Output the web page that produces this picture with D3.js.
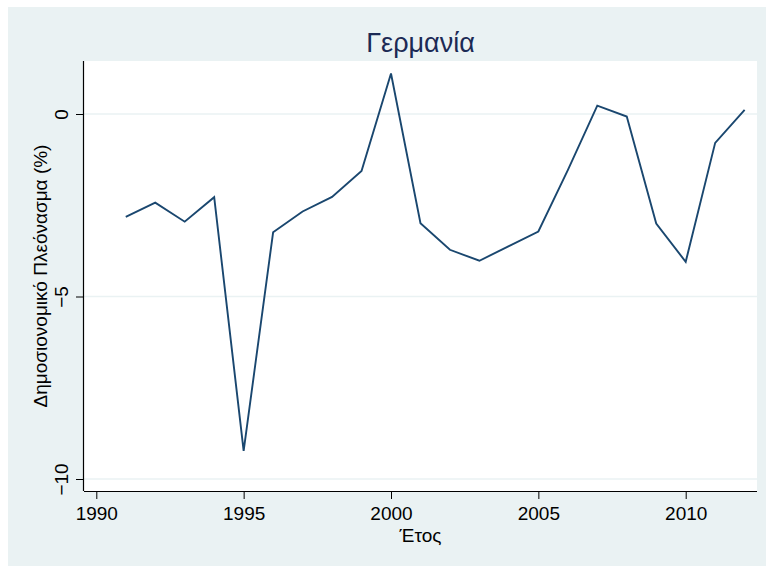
<!DOCTYPE html>
<html>
<head>
<meta charset="utf-8">
<script src="https://cdn.jsdelivr.net/npm/d3@7"></script>
<style>
  body { margin: 0; background: #fff; }
  svg { display: block; font-family: Arial, "Liberation Sans", sans-serif; }
</style>
</head>
<body>
<div class="container"></div>
<script>
// Germany, fiscal balance (% of GDP)
const years = [1991, 1992, 1993, 1994, 1995, 1996, 1997, 1998, 1999, 2000, 2001,
    2002, 2003, 2004, 2005, 2006, 2007, 2008, 2009, 2010, 2011, 2012];
const balance = [-2.82, -2.43, -2.95, -2.28, -9.23, -3.24, -2.67, -2.27, -1.56, 1.11, -2.99,
    -3.72, -4.02, -3.62, -3.22, -1.54, 0.23, -0.07, -3.0, -4.05, -0.79, 0.11];
const xTicks = [1990, 1995, 2000, 2005, 2010];
const yTicks = [-10, -5, 0];

const title = "Γερμανία";
const xTitle = "Έτος";
const yTitle = "Δημοσιονομικό Πλεόνασμα (%)";

let W = 766, H = 566;
let margin = { top: 61, right: 9, bottom: 75, left: 84 },
    width = W - margin.left - margin.right,
    height = H - margin.top - margin.bottom;

const font = "Arial, 'Liberation Sans', sans-serif";

let svg = d3.select(".container")
    .append("svg")
    .attr("width", W)
    .attr("height", H);

// outer background
svg.append("rect")
    .attr("x", 8).attr("y", 7)
    .attr("width", W - 8).attr("height", H - 7)
    .attr("fill", "#eaf2f3");

let g = svg.append("g")
    .attr("transform", "translate(" + margin.left + "," + margin.top + ")");

g.append("rect")
    .attr("width", width).attr("height", height)
    .attr("fill", "#fff");

let data = years.map((y, i) => ({ year: y, v: balance[i] }));

let x = d3.scaleLinear()
    .domain([1990, 2010])
    .range([96.3 - margin.left, 685.7 - margin.left]);

let y = d3.scaleLinear()
    .domain([-10, 0])
    .range([479 - margin.top, 114 - margin.top]);

// gridlines
g.append("g")
    .selectAll("line")
    .data(yTicks)
    .enter()
    .append("line")
    .attr("x1", 0).attr("x2", width)
    .attr("y1", d => y(d)).attr("y2", d => y(d))
    .attr("stroke", "#eaf2f3")
    .attr("stroke-width", 1.5);

// line
g.append("path")
    .datum(data)
    .attr("fill", "none")
    .attr("stroke", "#1a476f")
    .attr("stroke-width", 1.9)
    .attr("stroke-linejoin", "miter")
    .attr("d", d3.line().x(d => x(d.year)).y(d => y(d.v)));

// x axis
let xAxis = g.append("g")
    .attr("transform", "translate(0," + height + ")")
    .call(d3.axisBottom(x).tickValues(xTicks).tickFormat(d3.format("d"))
        .tickSize(8).tickSizeOuter(0).tickPadding(8));
xAxis.select(".domain").attr("d", "M0,0.5H" + width).attr("stroke", "#000").attr("stroke-width", 1.2);
xAxis.selectAll("text").attr("font-size", 19).attr("font-family", font).attr("fill", "#000");

// y axis
let yAxis = g.append("g")
    .call(d3.axisLeft(y).tickValues(yTicks).tickSize(8).tickSizeOuter(0));
yAxis.select(".domain").attr("d", "M-0.5,0V" + height).attr("stroke", "#000").attr("stroke-width", 1.2);
yAxis.selectAll("text")
    .attr("font-size", 19)
    .attr("font-family", font)
    .attr("fill", "#000")
    .attr("text-anchor", "middle")
    .attr("dy", 0)
    .attr("x", 0).attr("y", 0)
    .attr("transform", "translate(-16,0) rotate(-90)");

// titles
svg.append("text")
    .attr("x", margin.left + width / 2)
    .attr("y", 52)
    .attr("text-anchor", "middle")
    .attr("font-size", 27)
    .attr("fill", "#1c2a55")
    .text(title);

svg.append("text")
    .attr("x", margin.left + width / 2)
    .attr("y", 542)
    .attr("text-anchor", "middle")
    .attr("font-size", 19)
    .attr("fill", "#000")
    .text(xTitle);

svg.append("text")
    .attr("transform", "translate(47," + (margin.top + height / 2) + ") rotate(-90)")
    .attr("text-anchor", "middle")
    .attr("font-size", 19)
    .attr("fill", "#000")
    .text(yTitle);
</script>
</body>
</html>
